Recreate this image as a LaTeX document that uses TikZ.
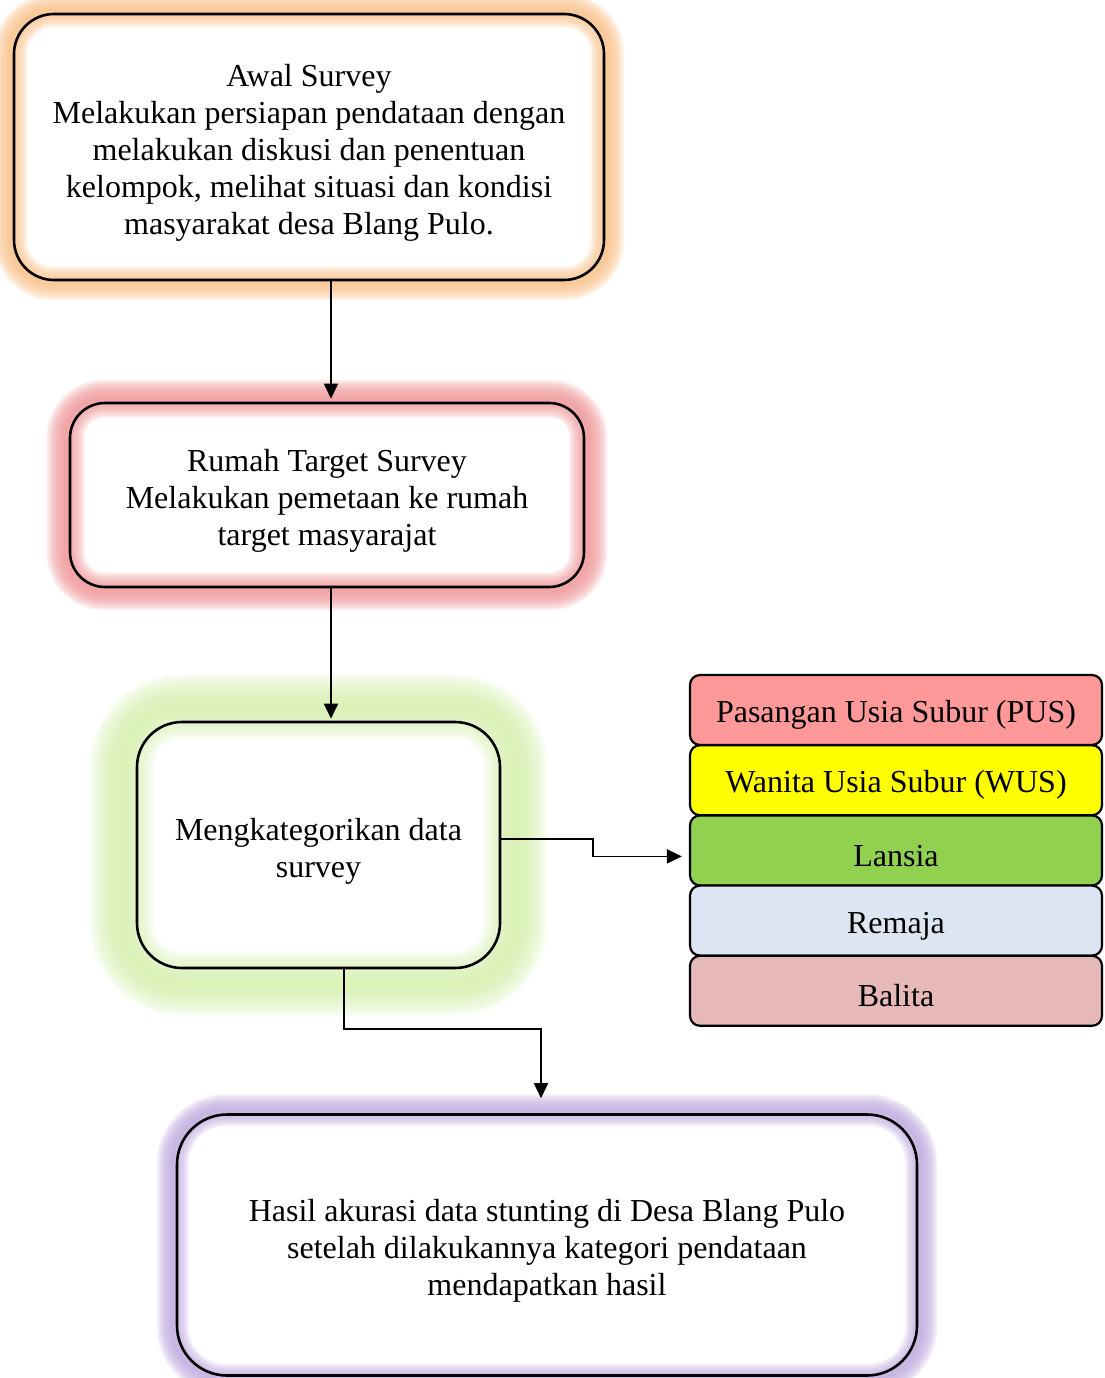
\documentclass[tikz,border=0pt]{standalone}
\usepackage{fontspec}
\setmainfont{Liberation Serif}
\usetikzlibrary{arrows.meta,positioning,backgrounds}
\definecolor{glowor}{HTML}{F8BE84}
\definecolor{glowred}{HTML}{EE9294}
\definecolor{glowgrn}{HTML}{D2EEA8}
\definecolor{glowpur}{HTML}{BCA6DC}
\definecolor{puspink}{HTML}{FF9999}
\definecolor{wusyel}{HTML}{FFFF00}
\definecolor{lansgrn}{HTML}{92D050}
\definecolor{remblue}{HTML}{DCE6F2}
\definecolor{balrose}{HTML}{E6B9B8}

% soft glow round a box: node, colour, corner radius, widest stroke, outward offset
\newcommand{\glowbox}[5]{%
  \begin{pgfonlayer}{background}
    \foreach \f in {10,9,...,1}
      \draw[#2, opacity=0.16, line width=\f*#4/10, rounded corners=#3+#5]
        ([shift={(-#5,-#5)}]#1.south west) rectangle ([shift={(#5,#5)}]#1.north east);
  \end{pgfonlayer}}
% pushes the first text line down a little
\newcommand{\toplift}{\rule{0pt}{34pt}}

\begin{document}
\begin{tikzpicture}[x=1pt, y=-1pt, >={Triangle[length=15pt,width=14pt]},
  font=\fontsize{32}{37}\selectfont,
  box/.style={draw, line width=2.6pt, align=center, inner sep=0pt},
  stage/.style={box, rounded corners=#1},
  cat/.style={draw, line width=2.2pt, rounded corners=10pt, align=center,
    inner sep=0pt, minimum width=412pt, minimum height=70pt,
    execute at begin node={\rule{0pt}{32pt}}},
  arr/.style={->, line width=1.8pt}]

  \useasboundingbox (0,0) rectangle (1104,1378);

  % ---- main column ----
  \node[stage=40pt, minimum width=590pt, minimum height=266pt] (awal) at (309,147)
    {\toplift Awal Survey\\ Melakukan persiapan pendataan dengan\\ melakukan diskusi dan penentuan\\
     kelompok, melihat situasi dan kondisi\\ masyarakat desa Blang Pulo.};
  \node[stage=35pt, minimum width=514pt, minimum height=184pt] (rumah) at (327,495)
    {\toplift Rumah Target Survey\\ Melakukan pemetaan ke rumah\\ target masyarajat};
  \node[stage=45pt, minimum width=363pt, minimum height=246pt] (kat) at (318.5,845)
    {\toplift Mengkategorikan data\\ survey};
  \node[stage=50pt, minimum width=740pt, minimum height=261pt] (hasil) at (547,1245)
    {\toplift Hasil akurasi data stunting di Desa Blang Pulo\\ setelah dilakukannya kategori pendataan\\
     mendapatkan hasil};

  \glowbox{awal}{glowor}{40pt}{34pt}{2pt}
  \glowbox{rumah}{glowred}{35pt}{38pt}{3pt}
  \glowbox{kat}{glowgrn}{45pt}{64pt}{14pt}
  \glowbox{hasil}{glowpur}{50pt}{32pt}{3pt}

  % ---- categories ----
  \node[cat, fill=puspink] (pus) at (896,710) {Pasangan Usia Subur (PUS)};
  \node[cat, fill=wusyel, below=-2pt of pus] (wus) {Wanita Usia Subur (WUS)};
  \node[cat, fill=lansgrn, below=-2pt of wus] (lansia) {Lansia};
  \node[cat, fill=remblue, below=-2pt of lansia] (remaja) {Remaja};
  \node[cat, fill=balrose, below=-2pt of remaja] (balita) {Balita};

  % ---- connectors ----
  \draw[arr, shorten >=3pt] ([xshift=22pt]awal.south) -- ([xshift=4pt]rumah.north);
  \draw[arr, shorten >=2pt] ([xshift=4pt]rumah.south) -- ([xshift=12.5pt]kat.north);
  \draw[arr, shorten >=7pt] ([yshift=6pt]kat.east) -- ++(92,0) |- ([yshift=-6pt]lansia.west);
  \draw[arr, shorten >=15pt] ([xshift=25.5pt]kat.south) -- ++(0,60) -| ([xshift=-6pt]hasil.north);

\end{tikzpicture}
\end{document}
